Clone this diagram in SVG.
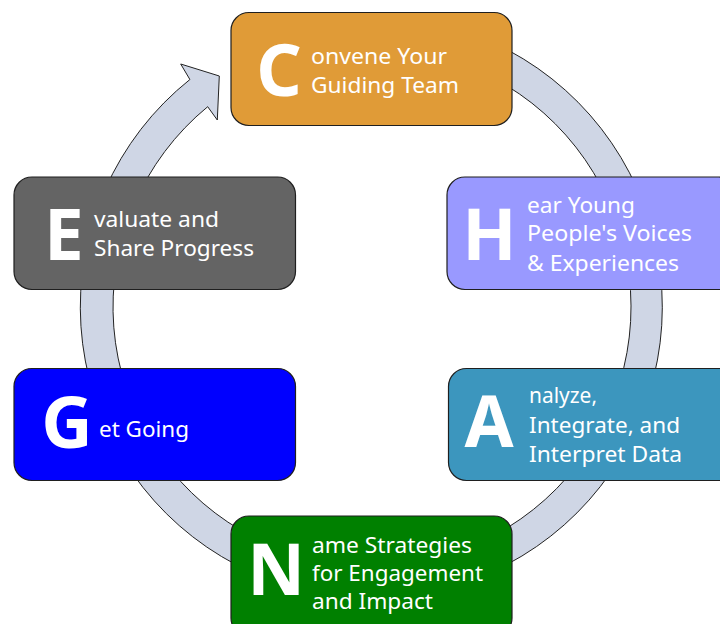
<svg xmlns="http://www.w3.org/2000/svg" width="720" height="624" viewBox="0 0 720 624">
<style>
.box{stroke:#1f1f1f;stroke-width:1.2}
.big{font-family:"Noto Sans","Open Sans","Liberation Sans",sans-serif;font-weight:bold;font-size:71px;fill:#fff;text-anchor:middle}
.t{font-family:"Noto Sans","Open Sans","Liberation Sans",sans-serif;font-size:22px;fill:#fff}
.ring{fill:#CFD6E5;stroke:#222;stroke-width:1}
</style>
<rect width="720" height="624" fill="#fff"/>
<g id="connectors">
<path class="ring" d="M 320.97 20.42 A 291 291 0 1 1 189.9 79.5 L 180.7 64 L 219.3 76 L 217.3 120 L 207.7 106.7 A 259 259 0 1 0 326.53 51.93 Z"/>
</g>
<g id="node-c">
<rect class="box" x="231" y="12.5" width="281" height="113" rx="18" fill="#E09B37"/>
<text class="big" x="279" y="96">C</text>
<text class="t" x="311" y="64" textLength="136" lengthAdjust="spacingAndGlyphs">onvene Your</text>
<text class="t" x="311" y="92.7" textLength="148" lengthAdjust="spacingAndGlyphs">Guiding Team</text>
</g>
<g id="node-h">
<rect class="box" x="447" y="177" width="290" height="112.5" rx="18" fill="#9999FF"/>
<text class="big" x="489.5" y="260">H</text>
<text class="t" x="527" y="212.7" textLength="108" lengthAdjust="spacingAndGlyphs">ear Young</text>
<text class="t" x="527" y="241.3" textLength="165" lengthAdjust="spacingAndGlyphs">People's Voices</text>
<text class="t" x="527" y="270.7" textLength="152" lengthAdjust="spacingAndGlyphs">&amp; Experiences</text>
</g>
<g id="node-a">
<rect class="box" x="448.5" y="368.5" width="290" height="112" rx="18" fill="#3C96BE"/>
<text class="big" x="489" y="447.3">A</text>
<text class="t" x="529" y="403.3" textLength="68" lengthAdjust="spacingAndGlyphs">nalyze,</text>
<text class="t" x="529" y="432.7" textLength="151" lengthAdjust="spacingAndGlyphs">Integrate, and</text>
<text class="t" x="529" y="461.7" textLength="153" lengthAdjust="spacingAndGlyphs">Interpret Data</text>
</g>
<g id="node-n">
<rect class="box" x="231" y="516" width="281" height="120" rx="18" fill="#008000"/>
<text class="big" x="276" y="595">N</text>
<text class="t" x="312" y="553.3" textLength="160" lengthAdjust="spacingAndGlyphs">ame Strategies</text>
<text class="t" x="312" y="580.7" textLength="171" lengthAdjust="spacingAndGlyphs">for Engagement</text>
<text class="t" x="312" y="609.3" textLength="121" lengthAdjust="spacingAndGlyphs">and Impact</text>
</g>
<g id="node-g">
<rect class="box" x="14" y="368.5" width="281.5" height="112" rx="18" fill="#0000FF"/>
<text class="big" x="67" y="448">G</text>
<text class="t" x="99" y="437.3" textLength="90" lengthAdjust="spacingAndGlyphs">et Going</text>
</g>
<g id="node-e">
<rect class="box" x="14" y="177" width="281.5" height="112.5" rx="18" fill="#646464"/>
<text class="big" x="64" y="260">E</text>
<text class="t" x="94" y="227.3" textLength="125" lengthAdjust="spacingAndGlyphs">valuate and</text>
<text class="t" x="94" y="256" textLength="160" lengthAdjust="spacingAndGlyphs">Share Progress</text>
</g>
</svg>
